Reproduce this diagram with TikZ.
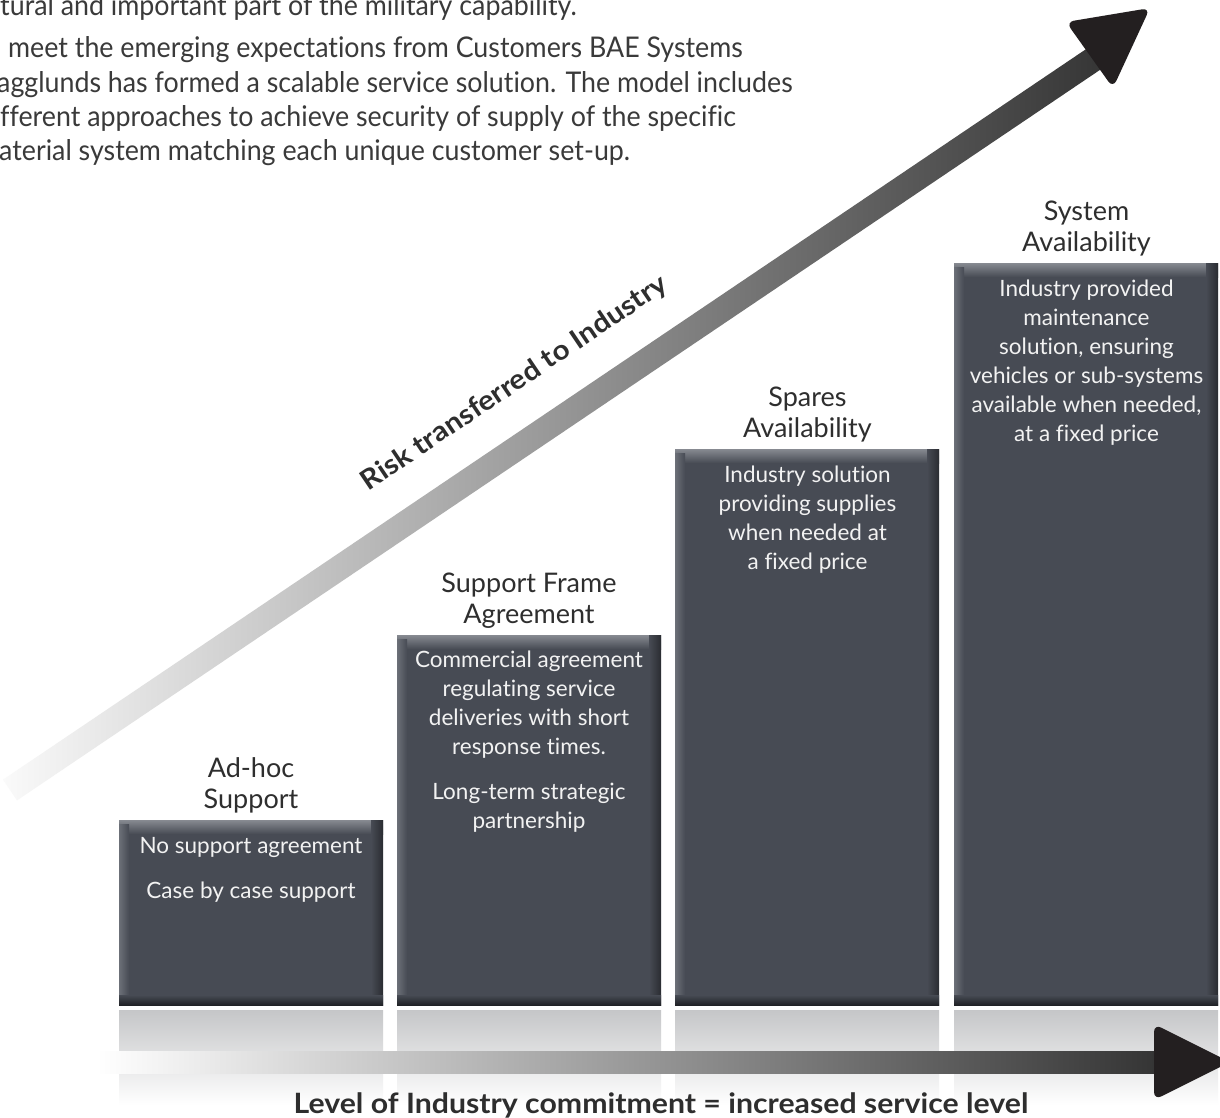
\documentclass[tikz,border=0pt]{standalone}
\usepackage{fontspec}
\setmainfont{Lato}[Ligatures=CommonOff]
\newfontfamily\labelfont{Lato}[FakeStretch=1.08, Ligatures=CommonOff]
\newfontfamily\introfont{Lato}[FakeStretch=0.94, Ligatures=CommonOff]
\definecolor{boxbase}{HTML}{474B54}
\definecolor{boxlight}{HTML}{878A91}
\definecolor{boxleft}{HTML}{6C7078}
\definecolor{boxdark}{HTML}{2A2C31}
\definecolor{boxdarker}{HTML}{202226}
\definecolor{txt}{HTML}{2E2E2E}
\definecolor{bodytxt}{HTML}{3A3A3A}
\definecolor{boxtxt}{HTML}{F2F2F2}
\definecolor{headc}{HTML}{231F20}
\definecolor{refl}{HTML}{C5C6C8}
\newcommand{\mybar}[3]{%
  \node[barbase, minimum height={(1005-#3)*1pt}, anchor=north west] (#1) at (#2,#3) {};
  \shade[top color=boxlight, bottom color=boxbase] (#2,#3) rectangle (#2+264,#3+14);
  \shade[left color=boxleft, right color=boxbase] (#2,#3+4) rectangle (#2+10,1005);
  \shade[left color=boxbase, right color=boxdark] (#2+252,#3) rectangle (#2+264,1005);
  \shade[top color=boxbase, bottom color=boxdarker] (#2,995) rectangle (#2+264,1005);
  \shade[top color=refl, bottom color=white] (#2,1010) rectangle (#2+264,1105);
}
\begin{document}
\begin{tikzpicture}[x=1pt,y=-1pt,
  barbase/.style={fill=boxbase, draw=none, inner sep=0pt, minimum width=264pt},
  title/.style={font=\fontsize{27}{31}\selectfont, text=txt, align=center, inner sep=0pt, anchor=base},
  boxtext/.style={font=\fontsize{22.5}{29}\selectfont, text=boxtxt, align=center, inner sep=0pt, anchor=base},
  body/.style={font=\introfont\fontsize{28.5}{34}\selectfont, text=bodytxt, inner sep=0pt, anchor=base west},
  bigbold/.style={font=\labelfont\bfseries\fontsize{28}{31}\selectfont, text=txt, inner sep=0pt, anchor=base}]
\useasboundingbox (0,0) rectangle (1220,1117);
\clip (0,0) rectangle (1220,1117);
\fill[white] (0,0) rectangle (1220,1117);

% intro text (cut at the left edge)
\node[body] (p1) at (0,15) {tural and important part of the military capability.};
\node[body] (p2) at (8,57) {meet the emerging expectations from Customers BAE Systems};
\node[body] (p3) at (-3,92) {agglunds has formed a scalable service solution. The model includes};
\node[body] (p4) at (0,126) {fferent approaches to achieve security of supply of the specific};
\node[body] (p5) at (-1,160) {aterial system matching each unique customer set-up.};

% diagonal arrow
\coordinate (dstart) at (10,790);
\begin{scope}[shift={(dstart)}, rotate=34]
  \shade[left color=black!2, right color=black!80] (0,-12.5) rectangle (1327,12.5);
\end{scope}
\fill[headc, rounded corners=8pt] (1066,22) -- (1150,8) -- (1113,88) -- cycle;
\node[bigbold, font=\labelfont\bfseries\fontsize{27.5}{30}\selectfont, rotate=34] (risk) at (519,390) {Risk transferred to Industry};

% bars
\mybar{bar1}{119}{820}
\mybar{bar2}{397}{635}
\mybar{bar3}{675}{449}
\mybar{bar4}{954}{263}

% titles (base = last line)
\node[title] (t1) at (251,808) {Ad-hoc\\Support};
\node[title] (t2) at (529,623) {Support Frame\\Agreement};
\node[title] (t3) at (807.5,437) {Spares\\Availability};
\node[title] (t4) at (1086.5,251) {System\\Availability};

% descriptions (base = last line)
\node[boxtext] (d1) at (251,898) {No support agreement\\[16pt]Case by case support};
\node[boxtext] (d2) at (529,828) {Commercial agreement\\regulating service\\deliveries with short\\response times.\\[16pt]Long-term strategic\\partnership};
\node[boxtext] (d3) at (807.5,569) {Industry solution\\providing supplies\\when needed at\\a fixed price};
\node[boxtext] (d4) at (1086.5,441) {Industry provided\\maintenance\\solution, ensuring\\vehicles or sub-systems\\available when needed,\\at a fixed price};

% horizontal arrow
\coordinate (hstart) at (97,1062);
\coordinate (hend) at (1230,1062);
\shade[left color=white, right color=black!80] (97,1051) rectangle (1165,1073);
\fill[headc, rounded corners=8pt] (1154,1024) -- (1154,1100) -- (hend) -- cycle;
\node[bigbold] (level) at (661,1113) {Level of Industry commitment = increased service level};
\end{tikzpicture}
\end{document}
